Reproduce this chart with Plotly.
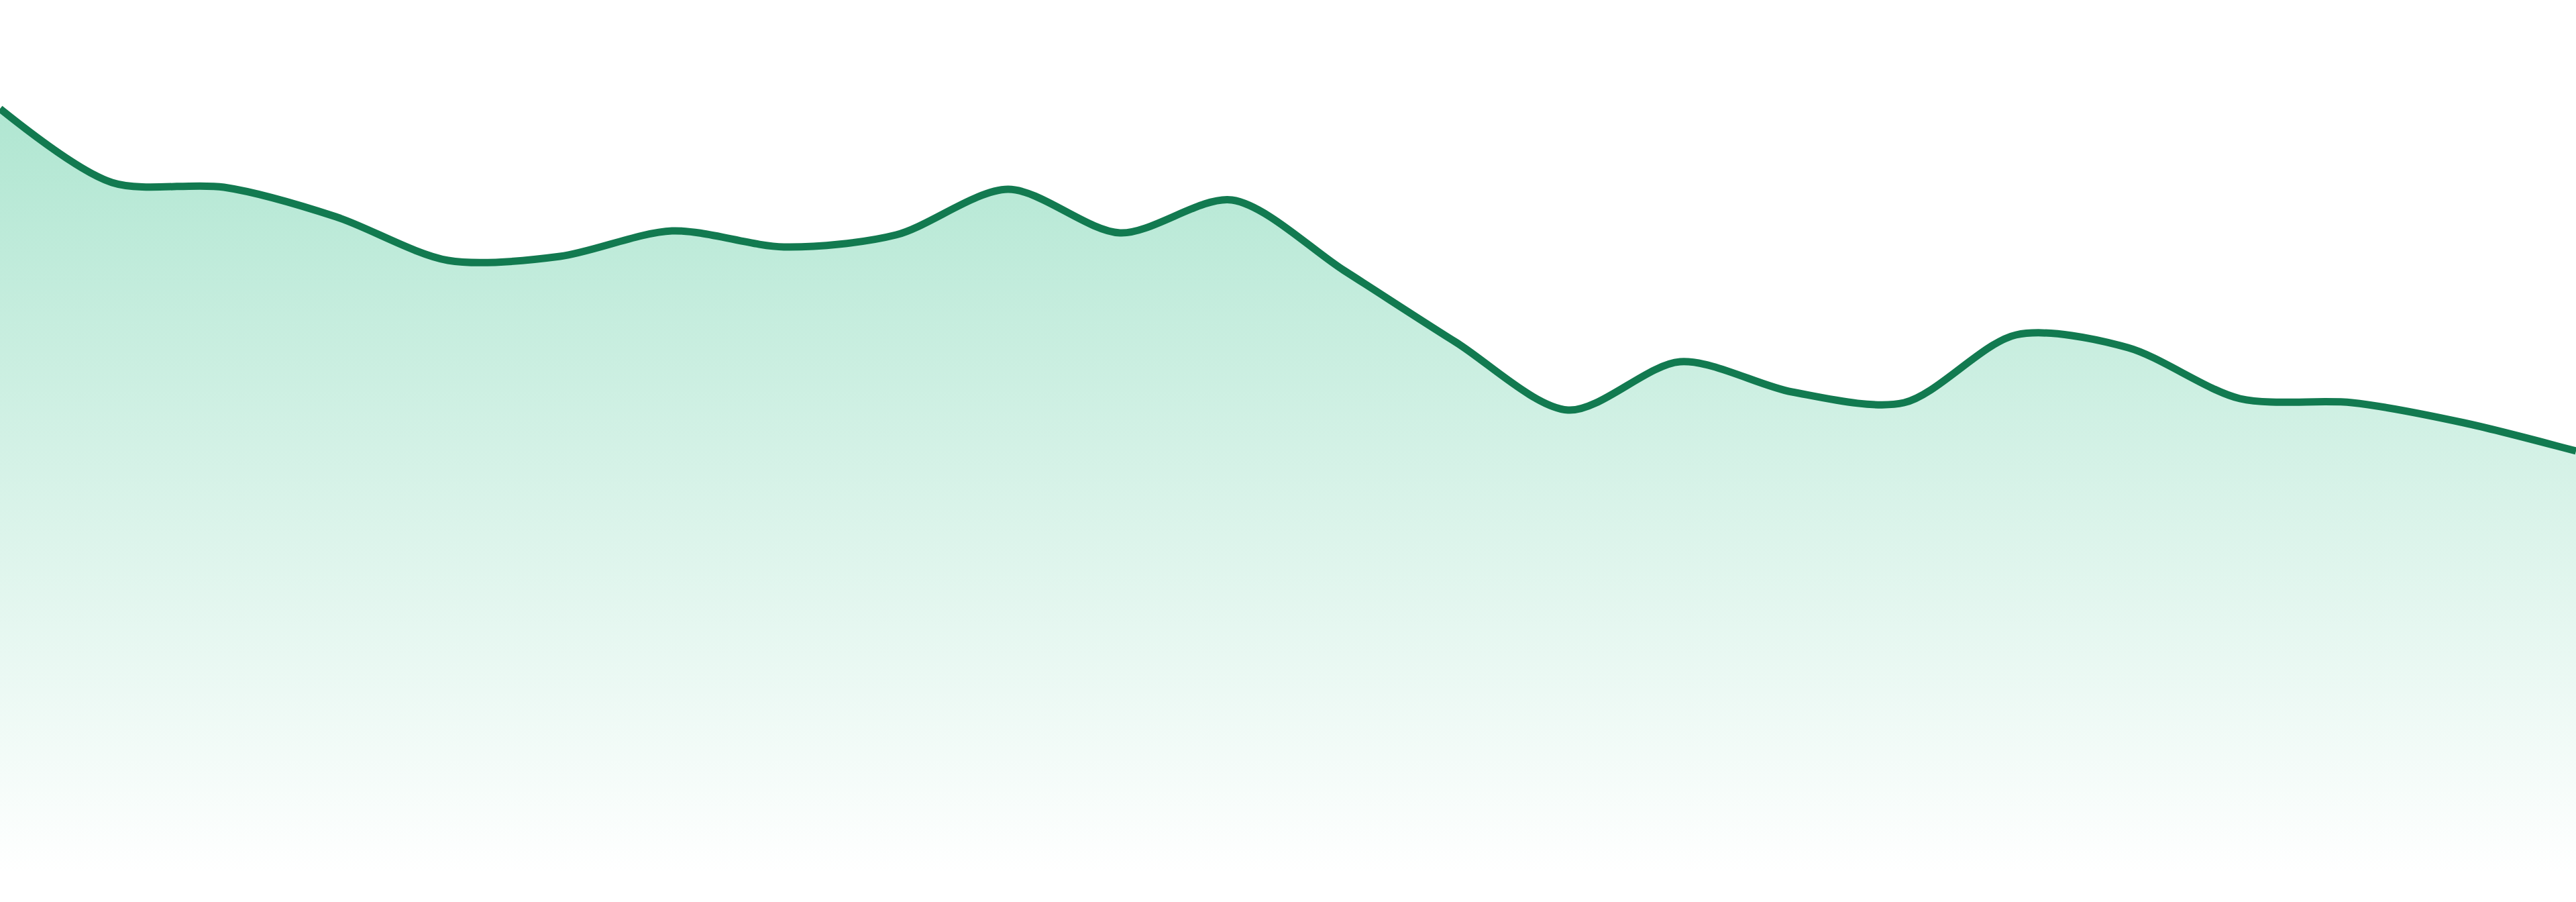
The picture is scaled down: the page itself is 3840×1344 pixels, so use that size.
import plotly.graph_objects as go

# Data
points = list(range(24))
values = [114.3, 103.3, 102.6, 98.2, 91.7, 92.3, 96.1, 93.7, 95.5, 102.3,
          95.8, 100.7, 90.2, 79.5, 69.4, 76.6, 72.1, 70.5, 80.6, 78.7,
          71.1, 70.5, 67.5, 63.3]

line_color = "#127a50"

fig = go.Figure()
fig.add_trace(go.Scatter(
    x=points,
    y=values,
    mode="lines",
    line=dict(color=line_color, width=11, shape="spline", smoothing=0.85),
    fill="tozeroy",
    fillgradient=dict(
        type="vertical",
        start=0,
        stop=max(values),
        colorscale=[[0.0, "rgba(16,180,117,0.0)"],
                    [1.0, "rgba(16,180,117,0.33)"]],
    ),
    hoverinfo="skip",
    showlegend=False,
))

fig.update_layout(
    width=3840,
    height=1344,
    margin=dict(l=0, r=0, t=0, b=39),
    paper_bgcolor="white",
    plot_bgcolor="white",
    xaxis=dict(range=[0, 23], visible=False, showgrid=False, zeroline=False),
    yaxis=dict(range=[0, 130.5], visible=False, showgrid=False, zeroline=False),
)

fig.write_html(
    "out.html",
    post_script="document.body.style.margin='0';document.body.style.overflow='hidden';"
                "var mb=document.querySelector('.modebar-container');if(mb){mb.style.display='none';}",
)
